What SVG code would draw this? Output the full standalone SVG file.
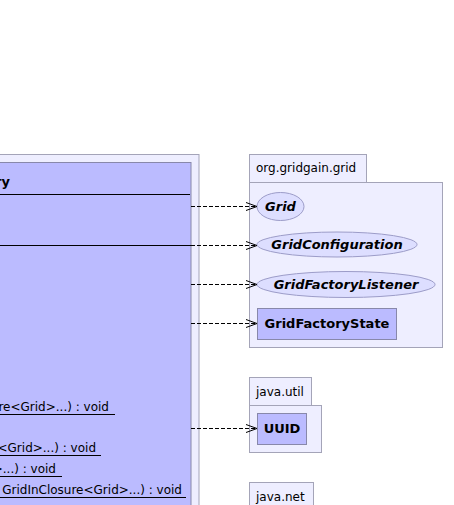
<svg xmlns="http://www.w3.org/2000/svg" width="454" height="505" viewBox="0 0 454 505">
<defs>
<style>
.pkg{fill:#eeeeff;stroke:#a4a4b8;stroke-width:1}
.cls{fill:#bbbbff;stroke:#8888aa;stroke-width:1}
.ifc{fill:#dddeff;stroke:#9c9cc8;stroke-width:1}
.t{font-family:"DejaVu Sans",sans-serif;font-size:12px;fill:#000}
.tab{font-family:"DejaVu Sans",sans-serif;font-size:12px;fill:#000}
.b{font-family:"DejaVu Sans",sans-serif;font-size:13px;font-weight:bold;fill:#000}
.bi{font-family:"DejaVu Sans",sans-serif;font-size:13px;font-weight:bold;font-style:italic;fill:#000}
.ln{stroke:#000;stroke-width:1}
.dep{stroke:#000;stroke-width:1;stroke-dasharray:4,2;fill:none}
</style>
<marker id="open" markerWidth="12" markerHeight="10" refX="11" refY="5" orient="auto" markerUnits="userSpaceOnUse">
<path d="M0,1 L11,5 L0,9" fill="none" stroke="#000" stroke-width="1"/>
</marker>
</defs>
<g id="pkg-gridgain">
<rect class="pkg" x="-10" y="154.5" width="209" height="360"/>
</g>
<g id="GridFactory">
<rect class="cls" x="-10" y="162.5" width="201" height="350"/>
<text class="b" x="10" y="186" text-anchor="end" font-size="14">GridFactory</text>
<line class="ln" x1="-10" y1="194.5" x2="190" y2="194.5"/>
<line class="ln" x1="-10" y1="245.5" x2="191" y2="245.5"/>
<text class="t" x="109" y="411" text-anchor="end">start(GridInClosure&lt;Grid&gt;...) : void</text>
<line class="ln" x1="-10" y1="414.5" x2="115" y2="414.5"/>
<text class="t" x="96" y="452" text-anchor="end">start(GridConfiguration, GridInClosure&lt;Grid&gt;...) : void</text>
<line class="ln" x1="-10" y1="455.5" x2="101" y2="455.5"/>
<text class="t" x="56" y="473" text-anchor="end">start(GridInClosure&lt;Grid&gt;...) : void</text>
<line class="ln" x1="-10" y1="476.5" x2="62" y2="476.5"/>
<text class="t" x="182" y="494" text-anchor="end">start(String, GridInClosure&lt;Grid&gt;...) : void</text>
<line class="ln" x1="-10" y1="497.5" x2="186" y2="497.5"/>
</g>
<g id="pkg-org-gridgain-grid">
<rect class="pkg" x="249.5" y="154.5" width="117" height="28"/>
<rect class="pkg" x="249.5" y="182.5" width="193" height="165"/>
<text class="tab" x="256" y="172">org.gridgain.grid</text>
</g>
<g id="Grid">
<ellipse class="ifc" cx="280.5" cy="206.5" rx="23.5" ry="14"/>
<text class="bi" x="280.5" y="211" text-anchor="middle">Grid</text>
</g>
<g id="GridConfiguration">
<ellipse class="ifc" cx="337" cy="244.5" rx="80" ry="12.5"/>
<text class="bi" x="337" y="249" text-anchor="middle">GridConfiguration</text>
</g>
<g id="GridFactoryListener">
<ellipse class="ifc" cx="346" cy="284.5" rx="89" ry="13"/>
<text class="bi" x="346" y="289" text-anchor="middle">GridFactoryListener</text>
</g>
<g id="GridFactoryState">
<rect class="cls" x="257.5" y="308.5" width="139" height="31"/>
<text class="b" x="327" y="328" text-anchor="middle">GridFactoryState</text>
</g>
<g id="pkg-java-util">
<rect class="pkg" x="249.5" y="377.5" width="62" height="28"/>
<rect class="pkg" x="249.5" y="405.5" width="72" height="47"/>
<text class="tab" x="256" y="396">java.util</text>
</g>
<g id="UUID">
<rect class="cls" x="257.5" y="413.5" width="49" height="31"/>
<text class="b" x="282" y="433" text-anchor="middle">UUID</text>
</g>
<g id="pkg-java-net">
<rect class="pkg" x="249.5" y="482.5" width="64" height="30"/>
<text class="tab" x="256" y="501">java.net</text>
</g>
<g id="connectors">
<line class="dep" x1="191" y1="206.5" x2="257" y2="206.5" marker-end="url(#open)"/>
<line class="dep" x1="191" y1="245.5" x2="257" y2="245.5" marker-end="url(#open)"/>
<line class="dep" x1="191" y1="284.5" x2="257" y2="284.5" marker-end="url(#open)"/>
<line class="dep" x1="191" y1="323.5" x2="257" y2="323.5" marker-end="url(#open)"/>
<line class="dep" x1="191" y1="428.5" x2="257" y2="428.5" marker-end="url(#open)"/>
</g>
</svg>
